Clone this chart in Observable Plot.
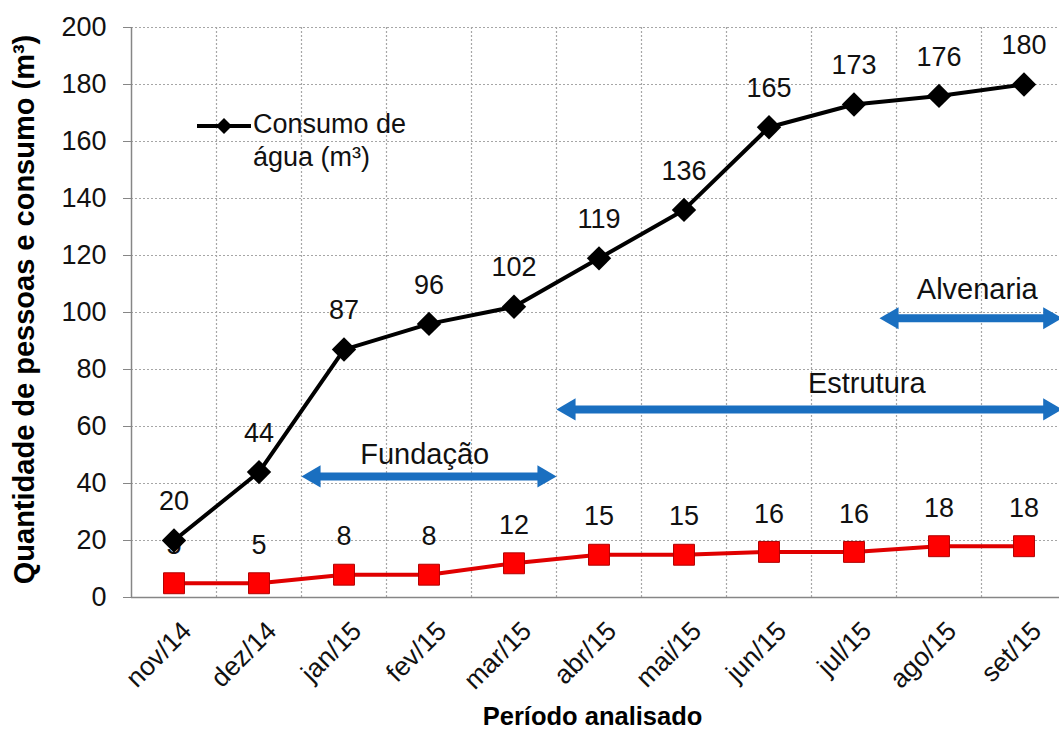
<!DOCTYPE html>
<html><head><meta charset="utf-8">
<script src="https://cdn.jsdelivr.net/npm/d3@7"></script>
<script src="https://cdn.jsdelivr.net/npm/@observablehq/plot@0.6"></script>
<style>
html,body{margin:0;padding:0;overflow:hidden;background:#fff}
#wrap{position:relative;width:1059px;height:731px;font-family:"Liberation Sans",Arial,sans-serif}
#legend{position:absolute;left:196px;top:108px;font-size:27px;line-height:33px;color:#111}
#legend svg{position:absolute;left:0;top:6px}
#legend div{position:absolute;left:57px;top:0;white-space:nowrap}
</style></head><body>
<div id="wrap"><div id="legend"><svg width="56" height="26"><line x1="1" y1="12" x2="55" y2="12" stroke="#000" stroke-width="4"/><path d="M28,4L36,12L28,20L20,12Z" fill="#000"/></svg><div>Consumo de<br>água (m³)</div></div></div>
<script>
const periods = ["nov/14","dez/14","jan/15","fev/15","mar/15","abr/15","mai/15","jun/15","jul/15","ago/15","set/15"];
const consumo = [20,44,87,96,102,119,136,165,173,176,180];
const pessoas = [5,5,8,8,12,15,15,16,16,18,18];
const yTicks = [0,20,40,60,80,100,120,140,160,180,200];
const phaseNames = ["Fundação","Estrutura","Alvenaria"];
const phaseStart = [1.5, 4.5, 8.3];
const phaseEnd = [4.5, 10.45, 10.45];
const phaseLevel = [42.5, 66, 98];
const phaseLabelX = [2.95, 8.15, 9.45];
const phaseLabelY = [50, 75, 108];
const yLabel = "Quantidade de pessoas e consumo (m³)";
const xLabel = "Período analisado";

const rows = periods.map((p, i) => ({i, p, c: consumo[i], n: pessoas[i]}));
const phases = phaseNames.map((name, k) => ({name, s: phaseStart[k], e: phaseEnd[k], y: phaseLevel[k], lx: phaseLabelX[k], ly: phaseLabelY[k]}));
const bounds = periods.map((_, i) => i + 0.5);
const blue = "#1a6fc0";
const grid = "#a6a6a6";

const chart = Plot.plot({
  width: 1059,
  height: 731,
  marginLeft: 131,
  marginRight: 0,
  marginTop: 27,
  marginBottom: 134,
  style: {fontFamily: "'Liberation Sans', Arial, sans-serif", fontSize: "27px", color: "#111", background: "#fff"},
  x: {domain: [-0.5, 10.5], range: [131, 1066]},
  y: {domain: [0, 200], range: [597, 27]},
  marks: [
    Plot.ruleY(yTicks.filter(d => d > 0), {stroke: grid, strokeDasharray: "2,2", strokeWidth: 1.2}),
    Plot.ruleX(bounds, {y1: 0, y2: 200, stroke: grid, strokeDasharray: "2,2", strokeWidth: 1.2}),
    Plot.ruleX([-0.5], {y1: 0, y2: 200, stroke: "#868686", strokeWidth: 1.5}),
    Plot.ruleY([0], {stroke: "#868686", strokeWidth: 1.5}),
    Plot.axisY({ticks: yTicks, tickSize: 8, tickPadding: 17, stroke: "#868686", fontSize: 27, label: null}),
    Plot.axisX({ticks: rows.map(d => d.i), tickFormat: i => periods[i], tickSize: 0, tickPadding: 0, tickRotate: -45, dx: 13, dy: 29, fontSize: 26.5, label: null}),
    Plot.text([yLabel], {text: d => d, frameAnchor: "left", textAnchor: "middle", rotate: -90, dx: -107, dy: -3, fontWeight: "bold", fontSize: 29, fill: "#000"}),
    Plot.text([xLabel], {text: d => d, frameAnchor: "bottom", dy: 127, dx: -3, fontWeight: "bold", fontSize: 25.5, fill: "#000"}),
    // phase arrows
    Plot.ruleY(phases, {y: "y", x1: "s", x2: "e", stroke: blue, strokeWidth: 8, insetLeft: 14, insetRight: 14}),
    Plot.dot(phases, {x: "s", y: "y", symbol: "triangle", rotate: -90, r: 8.2, fill: blue, dx: 12.7}),
    Plot.dot(phases, {x: "e", y: "y", symbol: "triangle", rotate: 90, r: 8.2, fill: blue, dx: -12.7}),
    Plot.text(phases, {x: "lx", y: "ly", text: "name", fontSize: 29, fill: "#111"}),
    // people series
    Plot.line(rows, {x: "i", y: "n", stroke: "#e00000", strokeWidth: 4}),
    Plot.dot(rows, {x: "i", y: "n", symbol: "square", r: 11.8, fill: "#ff0000", stroke: "#b00000", strokeWidth: 1}),
    Plot.text(rows, {x: "i", y: "n", text: d => String(d.n), dy: -38, fontSize: 27, fill: "#111"}),
    // water series
    Plot.line(rows, {x: "i", y: "c", stroke: "#000", strokeWidth: 4}),
    Plot.dot(rows, {x: "i", y: "c", symbol: "diamond2", r: 11, fill: "#000"}),
    Plot.text(rows, {x: "i", y: "c", text: d => String(d.c), dy: -39, fontSize: 27, fill: "#111"})
  ]
});
document.getElementById("wrap").prepend(chart);
</script>
</body></html>
